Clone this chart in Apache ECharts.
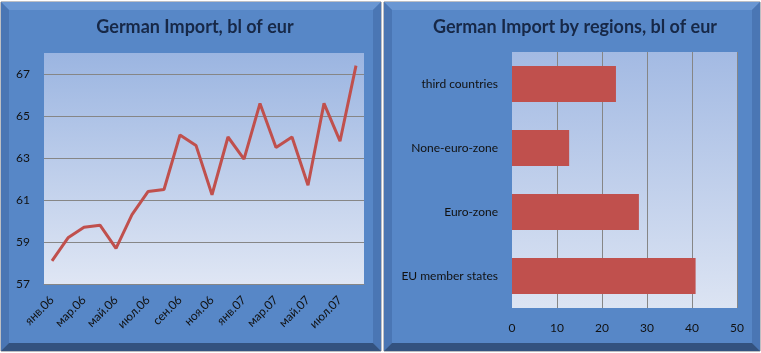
<!DOCTYPE html>
<html>
<head>
<meta charset="utf-8">
<script src="https://cdn.jsdelivr.net/npm/echarts@6/dist/echarts.min.js"></script>
<style>
  html, body { margin: 0; padding: 0; background: #ffffff; }
  #main { width: 761px; height: 353px; }
</style>
</head>
<body>
<div id="main"></div>
<script>
// monthly import, bl of eur (jan 2006 - aug 2007)
var months = ['янв.06', 'фев.06', 'мар.06', 'апр.06', 'май.06', 'июн.06', 'июл.06', 'авг.06',
  'сен.06', 'окт.06', 'ноя.06', 'дек.06', 'янв.07', 'фев.07', 'мар.07', 'апр.07',
  'май.07', 'июн.07', 'июл.07', 'авг.07'];
var importValues = [58.1, 59.2, 59.7, 59.8, 58.7, 60.3, 61.4, 61.5, 64.1, 63.6,
  61.25, 64.0, 62.95, 65.6, 63.5, 64.0, 61.7, 65.6, 63.8, 67.4];

// by regions
var regions = ['EU member states', 'Euro-zone', 'None-euro-zone', 'third countries'];
var regionValues = [40.8, 28.2, 12.7, 23.1];

var titleColor = '#172847';
var red = '#c0504d';
var fontName = 'Lato';

// panel with a simple bevel
function panel(x, y, w, h) {
  var b = 8;
  return [
    { type: 'rect', shape: { x: x, y: y, width: w, height: h }, style: { fill: '#5787c7', stroke: '#7a7f88', lineWidth: 1 } },
    { type: 'polygon', shape: { points: [[x, y], [x + w, y], [x + w - b, y + b], [x + b, y + b]] }, style: { fill: '#6a97d3' } },
    { type: 'polygon', shape: { points: [[x, y], [x + b, y + b], [x + b, y + h - b], [x, y + h]] }, style: { fill: '#4a76b4' } },
    { type: 'polygon', shape: { points: [[x + w, y], [x + w, y + h], [x + w - b, y + h - b], [x + w - b, y + b]] }, style: { fill: '#4a76b4' } },
    { type: 'polygon', shape: { points: [[x, y + h], [x + b, y + h - b], [x + w - b, y + h - b], [x + w, y + h]] }, style: { fill: '#33527f' } }
  ];
}

function plotBg(top, bottom) {
  return new echarts.graphic.LinearGradient(0, 0, 0, 1, [
    { offset: 0, color: top },
    { offset: 1, color: bottom }
  ]);
}

var myChart = echarts.init(document.getElementById('main'));
myChart.setOption({
  animation: false,
  graphic: panel(1, 2, 380, 349).concat(panel(384, 2, 376, 349)).map(function (g) {
    g.z = -10; g.silent = true; return g;
  }),
  title: [
    { text: 'German Import, bl of eur', left: 190, top: 13, textAlign: 'center',
      textStyle: { color: titleColor, fontSize: 18, fontWeight: 'bold', fontFamily: fontName } },
    { text: 'German Import by regions, bl of eur', left: 570, top: 13, textAlign: 'center',
      textStyle: { color: titleColor, fontSize: 18, fontWeight: 'bold', fontFamily: fontName } }
  ],
  grid: [
    { left: 44, top: 53, width: 320, height: 231, show: true, borderWidth: 0,
      backgroundColor: plotBg('#9bb5e1', '#dfe6f4') },
    { left: 512, top: 52, width: 225, height: 256, show: true, borderWidth: 0,
      backgroundColor: plotBg('#a3bae3', '#dce4f3') }
  ],
  xAxis: [
    { type: 'category', gridIndex: 0, data: months, boundaryGap: true,
      axisLine: { lineStyle: { color: '#868686', width: 1 } },
      axisTick: { show: false },
      axisLabel: { interval: 1, rotate: 45, margin: 14, color: '#111', fontSize: 12, fontFamily: fontName } },
    { type: 'value', gridIndex: 1, min: 0, max: 50, interval: 10,
      axisLine: { show: false }, axisTick: { show: false },
      splitLine: { show: true, showMinLine: false, lineStyle: { color: '#868686', width: 1 } },
      axisLabel: { margin: 14, color: '#111', fontSize: 12, fontFamily: fontName } }
  ],
  yAxis: [
    { type: 'value', gridIndex: 0, min: 57, max: 68, interval: 2,
      axisLine: { show: false }, axisTick: { show: false },
      splitLine: { show: true, showMinLine: false, showMaxLine: false, lineStyle: { color: '#868686', width: 1 } },
      axisLabel: { showMaxLabel: false, margin: 14, color: '#111', fontSize: 12, fontFamily: fontName } },
    { type: 'category', gridIndex: 1, data: regions,
      axisLine: { show: false }, axisTick: { show: false },
      axisLabel: { margin: 14, color: '#111', fontSize: 12, fontFamily: fontName } }
  ],
  series: [
    { type: 'line', xAxisIndex: 0, yAxisIndex: 0, data: importValues,
      showSymbol: false, symbol: 'none', lineStyle: { color: red, width: 3 } },
    { type: 'bar', xAxisIndex: 1, yAxisIndex: 1, data: regionValues,
      barWidth: 36, itemStyle: { color: red } }
  ]
});
</script>
</body>
</html>
